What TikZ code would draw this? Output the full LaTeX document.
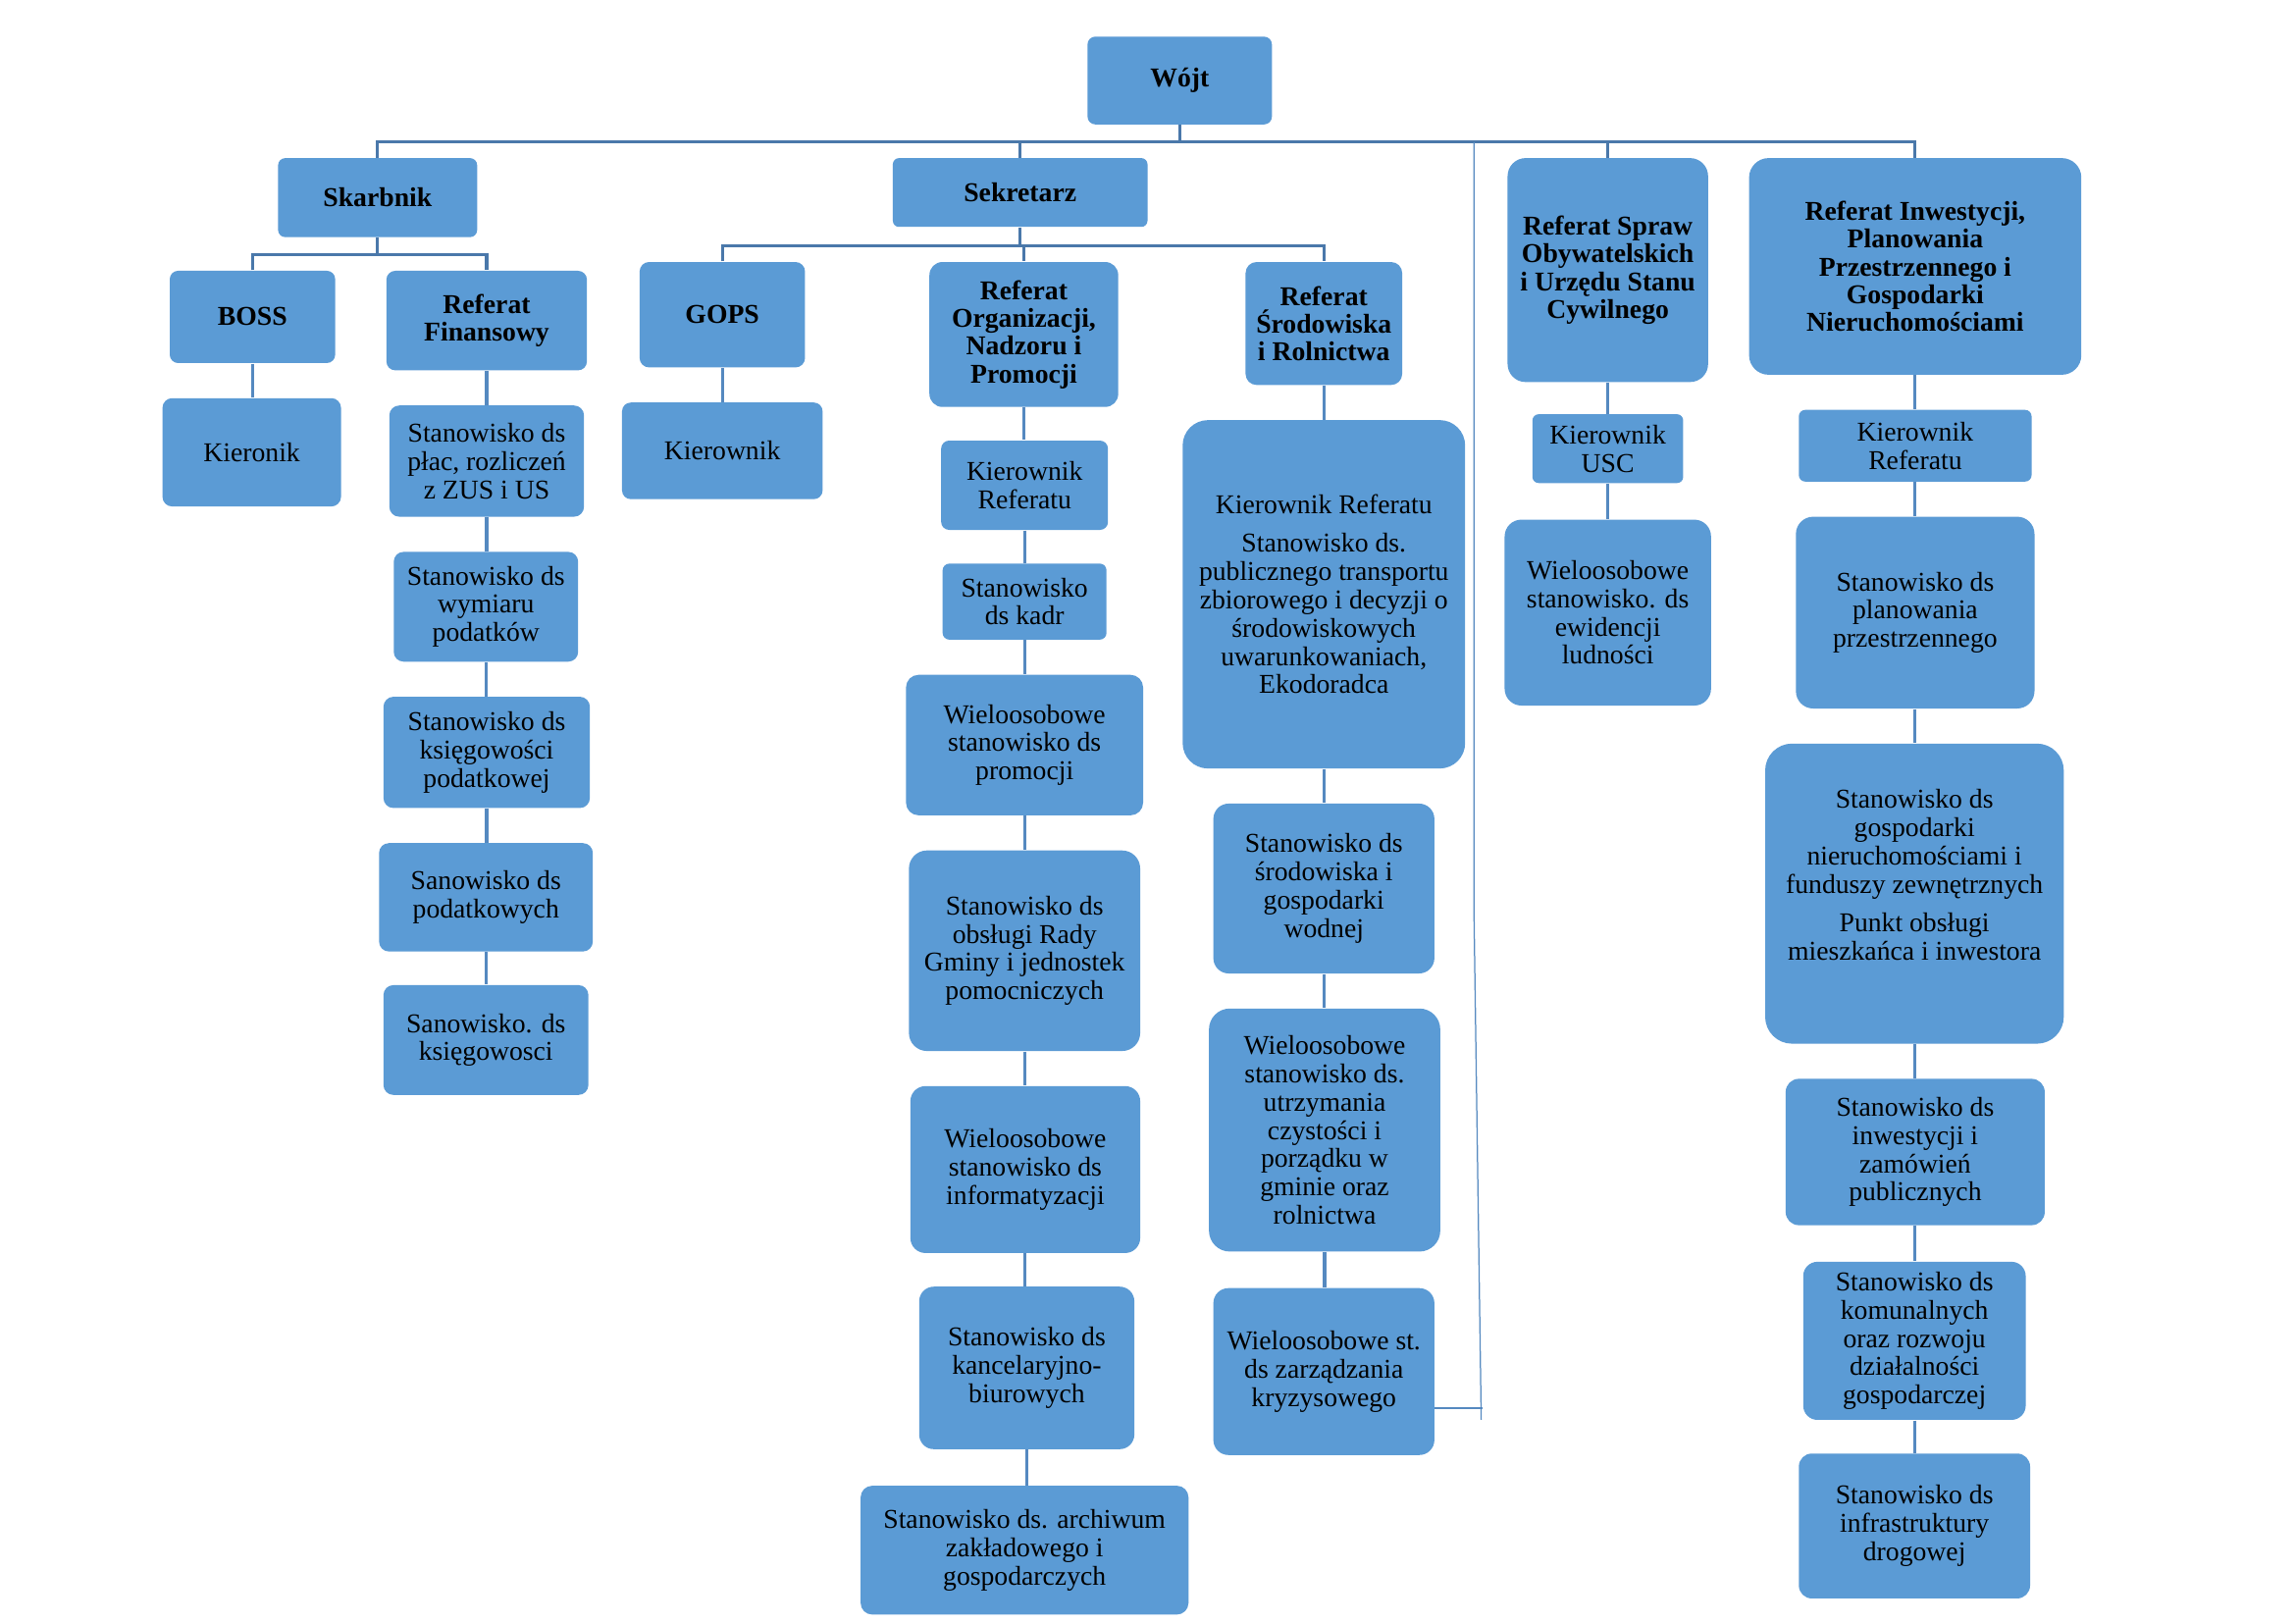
\documentclass[tikz,border=0pt]{standalone}
\usepackage{fontspec}
\setmainfont{Liberation Serif}
\definecolor{boxfill}{HTML}{5B9BD5}
\definecolor{busline}{HTML}{4A78AA}
\definecolor{connline}{HTML}{5589C0}
\newcommand\bx[7][]{%
  \pgfmathsetmacro\bxw{(#5-#3)*0.018942}%
  \pgfmathsetmacro\bxh{(#6-#4)*0.018942}%
  \pgfmathsetmacro\bxr{0.09*min(#5-#3,#6-#4)*0.018942}%
  \pgfmathsetmacro\bxcx{(#3+#5)/2}%
  \pgfmathsetmacro\bxcy{(#4+#6)/2}%
  \node[box,minimum width=\bxw cm,minimum height=\bxh cm,rounded corners=\bxr cm,#1] (#2) at (\bxcx,\bxcy) {#7};%
}
\begin{document}
\begin{tikzpicture}[x=0.018942cm,y=-0.018942cm,
  box/.style={fill=boxfill,draw=none,inner sep=0pt,align=center,text=black,
    font=\fontsize{10}{10.4}\selectfont},
  hd/.style={font=\fontsize{10}{10.2}\selectfont\bfseries},
  bus/.style={draw=busline,line width=1.1pt},
  conn/.style={draw=connline,line width=1.1pt},
  thin/.style={draw=connline,line width=0.45pt}]
\useasboundingbox (0,0) rectangle (1568,1109);
\fill[white] (0,0) rectangle (1568,1109);
% top
\bx[hd]{wojt}{743}{25}{869}{85}{Wójt}
\bx[hd]{skarb}{190}{108}{326}{162}{Skarbnik}
\bx[hd]{sekr}{610}{108}{784}{155}{Sekretarz}
\bx[hd]{spraw}{1030}{108}{1167}{261}{Referat Spraw\\Obywatelskich\\i Urzędu Stanu\\Cywilnego}
\bx[hd]{inwest}{1195}{108}{1422}{256}{Referat Inwestycji,\\Planowania\\Przestrzennego i\\Gospodarki\\Nieruchomościami}
% Skarbnik branch
\bx[hd]{boss}{116}{185}{229}{248}{BOSS}
\bx[hd]{fin}{264}{185}{401}{253}{Referat\\Finansowy}
\bx{kieronik}{111}{272}{233}{346}{Kieronik}
\bx{place}{266}{277}{399}{353}{Stanowisko ds\\płac, rozliczeń\\z ZUS i US}
\bx{wymiar}{269}{377}{395}{452}{Stanowisko ds\\wymiaru\\podatków}
\bx{ksiegpod}{262}{476}{403}{552}{Stanowisko ds\\księgowości\\podatkowej}
\bx{podatk}{259}{576}{405}{650}{Sanowisko ds\\podatkowych}
\bx{ksieg}{262}{673}{402}{748}{Sanowisko. ds\\księgowosci}
% Sekretarz branch
\bx[hd]{gops}{437}{179}{550}{251}{GOPS}
\bx{kiergops}{425}{275}{562}{341}{Kierownik}
\bx[hd]{org}{635}{179}{764}{278}{Referat\\Organizacji,\\Nadzoru i\\Promocji}
\bx{kierorg}{643}{301}{757}{362}{Kierownik\\Referatu}
\bx{kadr}{644}{385}{756}{437}{Stanowisko\\ds kadr}
\bx{promo}{619}{461}{781}{557}{Wieloosobowe\\stanowisko ds\\promocji}
\bx{rady}{621}{581}{779}{718}{Stanowisko ds\\obsługi Rady\\Gminy i jednostek\\pomocniczych}
\bx{inform}{622}{742}{779}{856}{Wieloosobowe\\stanowisko ds\\informatyzacji}
\bx{kancel}{628}{879}{775}{990}{Stanowisko ds\\kancelaryjno-\\biurowych}
\bx{archiw}{588}{1015}{812}{1103}{Stanowisko ds. archiwum\\zakładowego i\\gospodarczych}
\bx[hd]{srod}{851}{179}{958}{263}{Referat\\Środowiska\\i Rolnictwa}
\bx{kiersrod}{808}{287}{1001}{525}{Kierownik Referatu\\[3.8pt]Stanowisko ds.\\publicznego transportu\\zbiorowego i decyzji o\\środowiskowych\\uwarunkowaniach,\\Ekodoradca}
\bx{srodgosp}{829}{549}{980}{665}{Stanowisko ds\\środowiska i\\gospodarki\\wodnej}
\bx{czyst}{826}{689}{984}{855}{Wieloosobowe\\stanowisko ds.\\utrzymania\\czystości i\\porządku w\\gminie oraz\\rolnictwa}
\bx{kryzys}{829}{880}{980}{994}{Wieloosobowe st.\\ds zarządzania\\kryzysowego}
% Referat Spraw branch
\bx{usc}{1047}{283}{1150}{330}{Kierownik\\USC}
\bx{ewid}{1028}{355}{1169}{482}{Wieloosobowe\\stanowisko. ds\\ewidencji\\ludności}
% Referat Inwestycji branch
\bx{kierinw}{1229}{280}{1388}{329}{Kierownik\\Referatu}
\bx{plan}{1227}{353}{1390}{484}{Stanowisko ds\\planowania\\przestrzennego}
\bx{gospnier}{1206}{508}{1410}{713}{Stanowisko ds\\gospodarki\\nieruchomościami i\\funduszy zewnętrznych\\[3.8pt]Punkt obsługi\\mieszkańca i inwestora\\[3.6pt]\mbox{}}
\bx{inwzam}{1220}{737}{1397}{837}{Stanowisko ds\\inwestycji i\\zamówień\\publicznych}
\bx{komun}{1232}{862}{1384}{970}{Stanowisko ds\\komunalnych\\oraz rozwoju\\działalności\\gospodarczej}
\bx{infra}{1229}{993}{1387}{1092}{Stanowisko ds\\infrastruktury\\drogowej}
% bus coordinates
\coordinate (busY) at (0,97);
\coordinate (skY) at (0,174);
\coordinate (seY) at (0,168);
% main bus
\draw[bus] (wojt.south) -- (wojt.south |- busY);
\draw[bus] (skarb.north) -- (skarb.north |- busY) -- (inwest.north |- busY) -- (inwest.north);
\draw[bus] (sekr.north |- busY) -- (sekr.north);
\draw[bus] (spraw.north |- busY) -- (spraw.north);
% Skarbnik sub-bus
\draw[bus] (skarb.south) -- (skarb.south |- skY);
\draw[bus] (boss.north) -- (boss.north |- skY) -- (fin.north |- skY) -- (fin.north);
% Sekretarz sub-bus
\draw[bus] (sekr.south) -- (sekr.south |- seY);
\draw[bus] (gops.north) -- (gops.north |- seY) -- (srod.north |- seY) -- (srod.north);
\draw[bus] (org.north |- seY) -- (org.north);
% vertical chains
\foreach \a/\b in {boss/kieronik, fin/place, place/wymiar, wymiar/ksiegpod, ksiegpod/podatk, podatk/ksieg,
  gops/kiergops, org/kierorg, kierorg/kadr, kadr/promo, promo/rady, rady/inform, inform/kancel, kancel/archiw,
  srod/kiersrod, kiersrod/srodgosp, srodgosp/czyst, czyst/kryzys,
  spraw/usc, usc/ewid,
  inwest/kierinw, kierinw/plan, plan/gospnier, gospnier/inwzam, inwzam/komun, komun/infra}
  \draw[conn] (\a.south) -- (\a.south |- \b.north);
% thin line
\coordinate (tA) at (1007,97);
\coordinate (tB) at (1012,970);
\coordinate (tC) at (1013,962);
\draw[thin] (tA) -- (1007,620) -- (tB);
\draw[thin] (kryzys.east |- tC) -- (tC);
\end{tikzpicture}
\end{document}
